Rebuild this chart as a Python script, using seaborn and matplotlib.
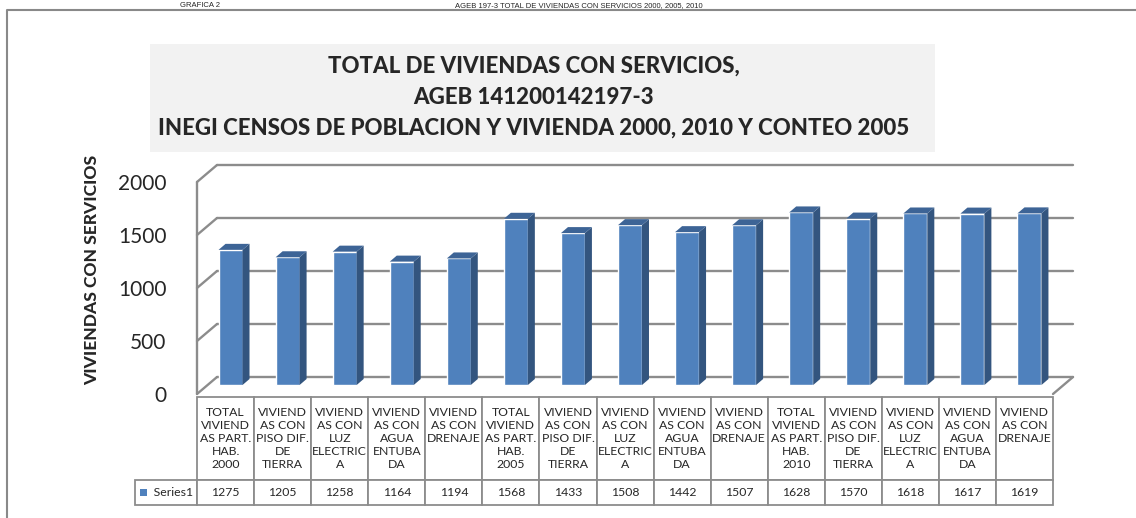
import numpy as np
import pandas as pd
import seaborn as sns
import matplotlib.pyplot as plt
from matplotlib.patches import Polygon, Rectangle
from matplotlib.lines import Line2D

# ---------------------------- datos ----------------------------
conceptos = [
    "VIVIEND\nAS CON\nPISO DIF.\nDE\nTIERRA",
    "VIVIEND\nAS CON\nLUZ\nELECTRIC\nA",
    "VIVIEND\nAS CON\nAGUA\nENTUBA\nDA",
    "VIVIEND\nAS CON\nDRENAJE\n \n ",
]
anios = ["2000", "2005", "2010"]
categorias = []
for a in anios:
    categorias.append("TOTAL\nVIVIEND\nAS PART.\nHAB.\n" + a)
    categorias += conceptos

valores = [1275, 1205, 1258, 1164, 1194,
           1568, 1433, 1508, 1442, 1507,
           1628, 1570, 1618, 1617, 1619]
yticks = [0, 500, 1000, 1500, 2000]
serie = "Series1"

titulo = ("TOTAL DE VIVIENDAS CON SERVICIOS,\nAGEB 141200142197-3\n"
          "INEGI CENSOS DE POBLACION Y VIVIENDA 2000, 2010 Y CONTEO 2005")
ylabel = "VIVIENDAS CON SERVICIOS"
encabezado = ["GRAFICA 2", "AGEB 197-3 TOTAL DE VIVIENDAS CON SERVICIOS 2000, 2005, 2010"]

# ---------------------------- estilo ----------------------------
sns.set_style("white")
plt.rcParams['font.family'] = ['Lato', 'DejaVu Sans']

AZUL = "#4F81BD"
LADO = "#33557F"
TAPA = "#3D6496"
GRIS = "#8C8C8C"

W, H = 1136, 518
fig = plt.figure(figsize=(W / 100, H / 100), dpi=100)
fig.patch.set_facecolor("white")

# axes = plano frontal del piso (x: categorias, y: valores)
ax = fig.add_axes([197 / W, (H - 394) / H, 856 / W, 212 / H])
ax.patch.set_alpha(0)

df = pd.DataFrame({"cat": range(len(valores)), "valor": valores})
sns.barplot(data=df, x="cat", y="valor", color=AZUL, saturation=1,
            width=0.42, ax=ax, zorder=3)

n = len(valores)
ax.set_xlim(-0.5, n - 0.5)
ax.set_ylim(0, yticks[-1])

# pixeles -> unidades de datos
ux = n / 856
uy = yticks[-1] / 212
gx, gy = 20 * ux, 17 * uy      # profundidad del piso / pared
bx, by = 5 * ux, 9 * uy        # barras a media profundidad
sx, sy = 7 * ux, 6 * uy        # profundidad de cada barra

# pared del fondo y pared izquierda
for v in yticks:
    ax.plot([-0.5 + gx, n - 0.5 + gx], [v + gy, v + gy], color=GRIS, lw=1.7,
            clip_on=False, zorder=1)
    ax.plot([-0.5, -0.5 + gx], [v, v + gy], color=GRIS, lw=1.7,
            clip_on=False, zorder=1)
ax.plot([-0.5, -0.5], [0, yticks[-1]], color=GRIS, lw=1.7, clip_on=False, zorder=1)
ax.plot([n - 0.5, n - 0.5 + gx], [0, gy], color=GRIS, lw=1.7, clip_on=False, zorder=1)

# barras 3D
for p in list(ax.patches):
    x0, w, h = p.get_x(), p.get_width(), p.get_height()
    p.set_x(x0 + bx)
    p.set_y(by)
    p.set_clip_on(False)
    xl, xr, yb, yt = x0 + bx, x0 + bx + w, by, by + h
    lado = Polygon([(xr, yb), (xr, yt), (xr + sx, yt + sy), (xr + sx, yb + sy)],
                   closed=True, facecolor=LADO, edgecolor="none", zorder=3,
                   clip_on=False)
    tapa = Polygon([(xl, yt), (xr, yt), (xr + sx, yt + sy), (xl + sx, yt + sy)],
                   closed=True, facecolor=TAPA, edgecolor="none", zorder=3,
                   clip_on=False)
    ax.add_patch(lado)
    ax.add_patch(tapa)

for s in ax.spines.values():
    s.set_visible(False)
ax.set_xticks([])
ax.set_xlabel("")
ax.set_yticks(yticks)
ax.set_yticklabels([str(v) for v in yticks], fontsize=15)
ax.tick_params(axis="y", length=0, pad=22)
ax.set_ylabel(ylabel, fontsize=12.5, fontweight="black")
ax.yaxis.set_label_coords(-0.113, 0.585)

# tabla de datos
x0t = -62 / 856
bbox = [x0t, -111 / 212, 1 - x0t, 108 / 212]
cols = [62] + [57] * n
tabla = ax.table(cellText=[["     " + serie] + [str(v) for v in valores]],
                 colLabels=[""] + categorias,
                 colWidths=[c / sum(cols) for c in cols],
                 cellLoc="center", bbox=bbox)
tabla.auto_set_font_size(False)
tabla.set_fontsize(8.8)
for (r, c), cell in tabla.get_celld().items():
    cell.set_edgecolor(GRIS)
    cell.set_linewidth(1.3)
    cell.set_height(83 if r == 0 else 25)
    cell.get_text().set_linespacing(1.25)
tabla[0, 0].set_visible(False)
ax.add_patch(Rectangle((x0t + 5 / 856, bbox[1] + 9 / 212), 7 / 856, 7 / 212,
                       transform=ax.transAxes, facecolor=AZUL, edgecolor="none",
                       clip_on=False, zorder=5))

# titulo
fig.add_artist(Rectangle((150 / W, 1 - 152 / H), 785 / W, 108 / H,
                         transform=fig.transFigure, facecolor="#F2F2F2",
                         edgecolor="none", zorder=0))
fig.text(534 / W, 1 - 97 / H, titulo, ha="center", va="center", fontsize=16,
         fontweight="black", linespacing=1.6, zorder=1)

# encabezado de la pagina (muy arriba)
fig.text(180 / W, 1 - 7 / H, encabezado[0], fontsize=5.5, family="Liberation Sans",
         va="baseline")
fig.text(455 / W, 1 - 7 / H, encabezado[1], fontsize=5.5, family="Liberation Sans",
         va="baseline")

# marco
fig.add_artist(Line2D([7 / W, 7 / W, 1.0], [0, 1 - 10 / H, 1 - 10 / H],
                      transform=fig.transFigure, color="#898989", lw=1.5))

fig.savefig("out.png", dpi=100)
